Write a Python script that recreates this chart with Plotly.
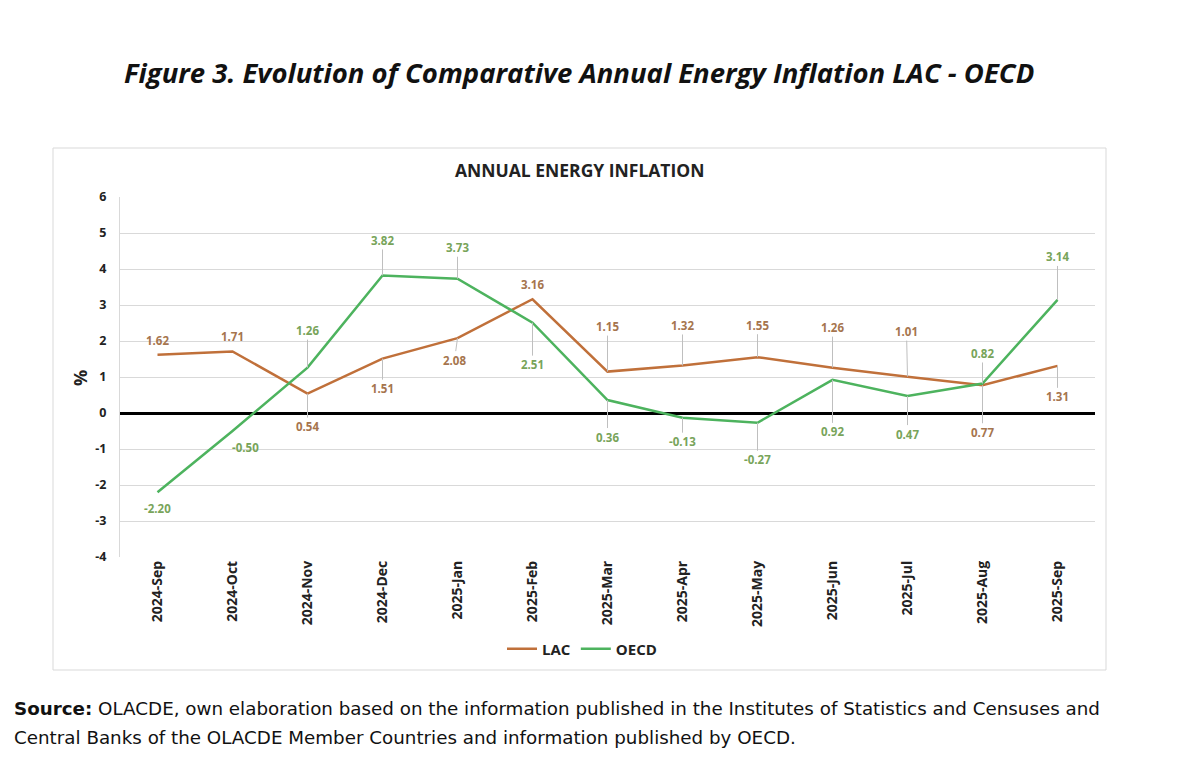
import plotly.graph_objects as go

months = ["2024-Sep", "2024-Oct", "2024-Nov", "2024-Dec", "2025-Jan", "2025-Feb",
          "2025-Mar", "2025-Apr", "2025-May", "2025-Jun", "2025-Jul", "2025-Aug", "2025-Sep"]
lac = [1.62, 1.71, 0.54, 1.51, 2.08, 3.16, 1.15, 1.32, 1.55, 1.26, 1.01, 0.77, 1.31]
oecd = [-2.20, -0.50, 1.26, 3.82, 3.73, 2.51, 0.36, -0.13, -0.27, 0.92, 0.47, 0.82, 3.14]
y_ticks = [-4, -3, -2, -1, 0, 1, 2, 3, 4, 5, 6]
y_tick_labels = ["-4", "-3", "-2", "-1", "0", "1", "2", "3", "4", "5", "6"]

W, H = 1194, 768
OFF = 8  # page body margin
def px(x):
    return (x - OFF) / W
def py(y):
    return 1 - (y - OFF) / H

LAC_COLOR = "#C0703A"
OECD_COLOR = "#4DB35E"
LAC_LBL = "#A6754E"
OECD_LBL = "#78A45A"
LEADER = "#BFBFBF"
FONT = "Open Sans"

# label placement (pixel offsets from point, leader line shown?)
lac_pos = [(0, -14, False), (0, -15, False), (0, 33, True), (0, 30, True), (-3, 22, True),
           (0, -15, False), (0, -45, True), (0, -40, True), (0, -32, True), (0, -40, True),
           (-1, -45, True), (0, 47, True), (0, 31, True)]
oecd_pos = [(0, 16, False), (13, 16, False), (0, -37, True), (0, -35, True), (0, -31, True),
            (0, 42, True), (0, 37, True), (0, 24, True), (0, 37, True), (0, 52, True),
            (0, 38, True), (0, -30, True), (0, -43, True)]

fig = go.Figure()
fig.add_trace(go.Scatter(x=months, y=lac, mode="lines", name="LAC",
                         line=dict(color=LAC_COLOR, width=2.5)))
fig.add_trace(go.Scatter(x=months, y=oecd, mode="lines", name="OECD",
                         line=dict(color=OECD_COLOR, width=2.5)))

annotations = []
def add_labels(vals, pos, color):
    for m, v, (dx, dy, lead) in zip(months, vals, pos):
        a = dict(x=m, y=v, xref="x", yref="y", text=f"{v:.2f}",
                 font=dict(family=FONT, size=11.5, color=color, weight="bold"))
        if lead:
            a.update(showarrow=True, arrowhead=0, arrowwidth=1, arrowcolor=LEADER,
                     ax=dx, ay=dy, standoff=0, startstandoff=0)
        else:
            a.update(showarrow=False, xshift=dx, yshift=-dy, yanchor="middle")
        annotations.append(a)

add_labels(lac, lac_pos, LAC_LBL)
add_labels(oecd, oecd_pos, OECD_LBL)

annotations += [
    dict(x=px(579), y=py(72), xref="paper", yref="paper", showarrow=False, yanchor="middle",
         text="Figure 3. Evolution of Comparative Annual Energy Inflation LAC - OECD",
         font=dict(family=FONT, size=27.5, color="#111111", weight="bold", style="italic")),
    dict(x=px(579), y=py(170), xref="paper", yref="paper", showarrow=False, yanchor="middle",
         text="ANNUAL ENERGY INFLATION",
         font=dict(family=FONT, size=17.5, color="#222222", weight="bold")),
    dict(x=px(80), y=py(378), xref="paper", yref="paper", showarrow=False,
         xanchor="center", yanchor="middle",
         text="%", textangle=-90,
         font=dict(family=FONT, size=18, color="#222222", weight="bold")),
    dict(x=px(12), y=py(708), xref="paper", yref="paper", showarrow=False,
         xanchor="left", yanchor="middle",
         text="<b>Source:</b> OLACDE, own elaboration based on the information published in the Institutes of Statistics and Censuses and",
         font=dict(family="DejaVu Sans", size=18.3, color="#111111")),
    dict(x=px(12), y=py(737), xref="paper", yref="paper", showarrow=False,
         xanchor="left", yanchor="middle",
         text="Central Banks of the OLACDE Member Countries and information published by OECD.",
         font=dict(family="DejaVu Sans", size=18.3, color="#111111")),
]

fig.update_layout(
    width=W, height=H,
    margin=dict(l=0, r=0, t=0, b=0, autoexpand=False),
    paper_bgcolor="white", plot_bgcolor="white",
    showlegend=True,
    legend=dict(orientation="h", x=px(582), y=py(649), xanchor="center", yanchor="middle",
                font=dict(family=FONT, size=15, color="#222222", weight="bold"),
                itemwidth=30, tracegroupgap=0),
    annotations=annotations,
    shapes=[dict(type="rect", xref="paper", yref="paper",
                 x0=px(53), x1=px(1106), y0=py(670), y1=py(148),
                 line=dict(color="#D9D9D9", width=1), layer="below")],
    xaxis=dict(domain=[px(120), px(1095)], type="category", range=[-0.5, 12.5],
               automargin=False,
               tickangle=-90, showgrid=False, showline=False, ticks="",
               tickfont=dict(family=FONT, size=14, color="#222222", weight="bold")),
    yaxis=dict(domain=[py(557), py(197)], range=[-4, 6],
               tickvals=y_ticks, ticktext=y_tick_labels,
               automargin=False,
               showgrid=True, gridcolor="#D9D9D9", gridwidth=1,
               zeroline=True, zerolinecolor="#000000", zerolinewidth=2.5,
               showline=True, linecolor="#D9D9D9", linewidth=1,
               ticks="", ticklabelstandoff=10,
               tickfont=dict(family=FONT, size=12.5, color="#222222", weight="bold")),
)

fig.write_html("out.html")
